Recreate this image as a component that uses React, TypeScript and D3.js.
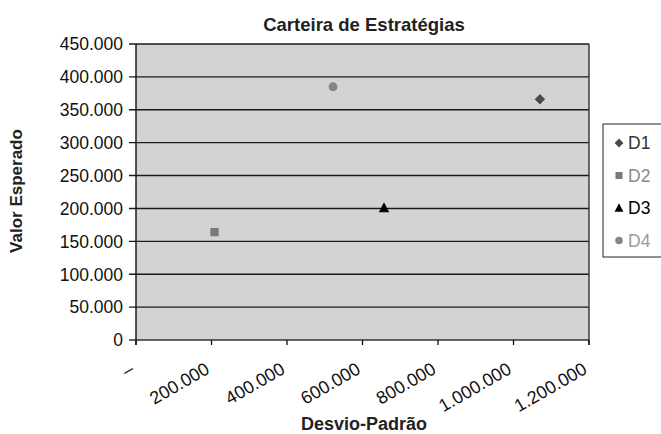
import React from "react";
import * as d3 from "d3";

const seriesNames = ["D1", "D2", "D3", "D4"];
const xValues = [1070000, 208000, 657000, 522000];
const yValues = [366000, 164000, 201000, 385000];
const markerShapes = ["diamond", "square", "triangle", "circle"];
const markerColors = ["#4a4a4a", "#7a7a7a", "#000000", "#858585"];
const legendTextColors = ["#333333", "#8a8a8a", "#000000", "#9a9a9a"];
const xTicks = [0, 200000, 400000, 600000, 800000, 1000000, 1200000];
const yTicks = [0, 50000, 100000, 150000, 200000, 250000, 300000, 350000, 400000, 450000];

const W = 661, H = 434;
const left = 136, right = 589, top = 44, bottom = 340;
const font = "'Liberation Sans', Arial, sans-serif";

const fmt = (v: number) => {
  if (v === 0) return "0";
  return d3.format(",")(v).replace(/,/g, ".");
};

function symbolFor(shape: string, r: number) {
  if (shape === "diamond") {
    return `M0,${-r}L${r},0L0,${r}L${-r},0Z`;
  }
  if (shape === "square") {
    return `M${-r * 0.8},${-r * 0.8}h${r * 1.6}v${r * 1.6}h${-r * 1.6}Z`;
  }
  if (shape === "triangle") {
    const h = r * 1.75;
    return `M0,${-h / 2 - 1}L${r * 1.0},${h / 2}L${-r * 1.0},${h / 2}Z`;
  }
  return d3.symbol().type(d3.symbolCircle).size(Math.PI * r * r * 0.72)() as string;
}

export default function App() {
  const x = d3.scaleLinear().domain([0, 1200000]).range([left, right]);
  const y = d3.scaleLinear().domain([0, 450000]).range([bottom, top]);
  return (
    <svg width={W} height={H} style={{ position: "absolute", left: 0, top: 0, background: "#fff" }}>
      <rect x={left} y={top} width={right - left} height={bottom - top} fill="#d2d3d5" />
      {yTicks.map((t) => (
        <g key={t}>
          <line x1={left - 7} x2={right} y1={y(t)} y2={y(t)} stroke={t === 0 ? "#333" : "#1a1a1a"} strokeWidth={1.4} />
          <text x={left - 13} y={y(t)} dy="0.36em" textAnchor="end" fontFamily={font} fontSize={17.5} fill="#111">
            {fmt(t)}
          </text>
        </g>
      ))}
      <line x1={left} x2={left} y1={top} y2={bottom + 5} stroke="#111" strokeWidth={1.4} />
      <line x1={right} x2={right} y1={top} y2={bottom + 5} stroke="#333" strokeWidth={1.4} />
      {xTicks.map((t) => (
        <g key={t}>
          <line x1={x(t)} x2={x(t)} y1={bottom} y2={bottom + 5} stroke="#111" strokeWidth={1.3} />
          <text
            transform={`translate(${x(t) - 4},${bottom + 27}) rotate(-30)`}
            textAnchor="end"
            fontFamily={font}
            fontSize={18}
            dy="0.35em"
            fill="#111"
          >
            {t === 0 ? "–" : fmt(t)}
          </text>
        </g>
      ))}
      {seriesNames.map((n, i) => (
        <path
          key={n}
          d={symbolFor(markerShapes[i], 5.2)}
          transform={`translate(${x(xValues[i])},${y(yValues[i])})`}
          fill={markerColors[i]}
        />
      ))}
      <text x={364} y={31} textAnchor="middle" fontFamily={font} fontSize={18.5} fontWeight="bold" fill="#222">
        Carteira de Estratégias
      </text>
      <text x={364} y={430} textAnchor="middle" fontFamily={font} fontSize={18} fontWeight="bold" fill="#222">
        Desvio-Padrão
      </text>
      <text transform={`translate(22,191) rotate(-90)`} textAnchor="middle" fontFamily={font} fontSize={17} fontWeight="bold" fill="#222">
        Valor Esperado
      </text>
      <rect x={603} y={124} width={70} height={133} fill="#fff" stroke="#222" strokeWidth={1} />
      {seriesNames.map((n, i) => {
        const ly = 143 + i * 32.5;
        return (
          <g key={n}>
            <path d={symbolFor(markerShapes[i], 4.4)} transform={`translate(619,${ly})`} fill={markerColors[i]} />
            <text x={628} y={ly} dy="0.36em" fontFamily={font} fontSize={17.5} fill={legendTextColors[i]}>
              {n}
            </text>
          </g>
        );
      })}
    </svg>
  );
}
